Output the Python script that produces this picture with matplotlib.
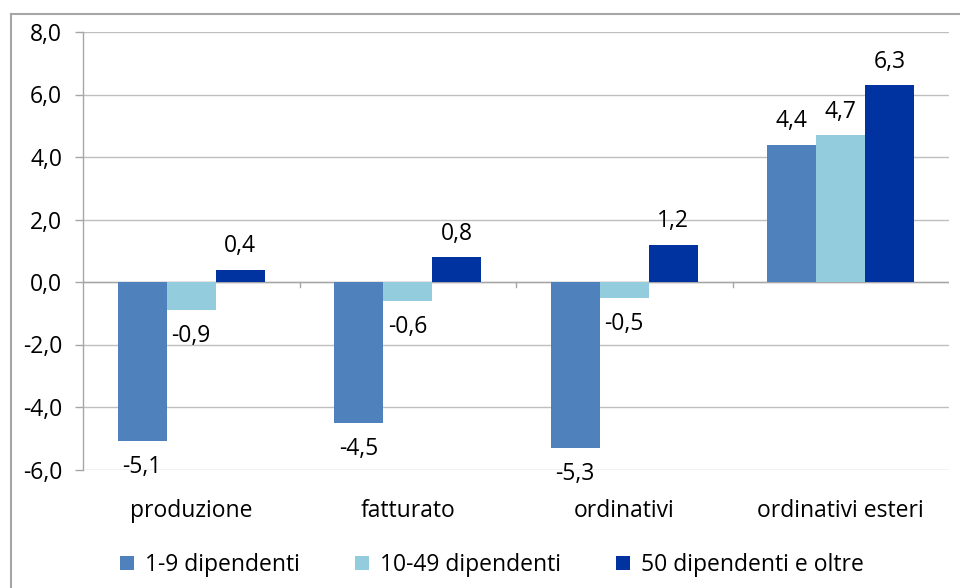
import matplotlib
matplotlib.use("Agg")
import matplotlib.pyplot as plt
from matplotlib.lines import Line2D
from matplotlib.patches import Patch
import numpy as np

categories = ["produzione", "fatturato", "ordinativi", "ordinativi esteri"]
series_names = ["1-9 dipendenti", "10-49 dipendenti", "50 dipendenti e oltre"]
small = [-5.1, -4.5, -5.3, 4.4]
medium = [-0.9, -0.6, -0.5, 4.7]
large = [0.4, 0.8, 1.2, 6.3]
yticks = [-6.0, -4.0, -2.0, 0.0, 2.0, 4.0, 6.0, 8.0]

colors = ["#4F81BD", "#93CDDD", "#0033A0"]
series = [small, medium, large]

plt.rcParams["font.family"] = ["Open Sans", "DejaVu Sans"]
FS = 16.5

W, H = 960, 588
fig = plt.figure(figsize=(W / 100, H / 100), dpi=100)

# outer chart frame (left and top edges)
fig.add_artist(Line2D([11 / W, 11 / W], [0, 1 - 14 / H], transform=fig.transFigure,
                      color="#A6A6A6", lw=1.5))
fig.add_artist(Line2D([11 / W, 1], [1 - 14 / H, 1 - 14 / H], transform=fig.transFigure,
                      color="#A6A6A6", lw=1.5))

left, right, top, bottom = 83, 949, 32, 469.5
ax = fig.add_axes([left / W, 1 - bottom / H, (right - left) / W, (bottom - top) / H])

x = np.arange(len(categories))
bw = 0.68 / 3
for i, (vals, c, name) in enumerate(zip(series, colors, series_names)):
    pos = x + (i - 1) * bw
    ax.bar(pos, vals, width=bw, color=c, label=name, zorder=3)
    for xp, v in zip(pos, vals):
        txt = f"{v:.1f}".replace(".", ",")
        ax.annotate(txt, (xp, v), xytext=(0, 8 if v >= 0 else -10),
                    textcoords="offset points", ha="center",
                    va="bottom" if v >= 0 else "top", fontsize=FS, color="black")

ax.set_xlim(-0.5, len(categories) - 0.5)
ax.set_ylim(-6, 8)
ax.set_yticks(yticks)
ax.set_yticklabels([f"{t:.1f}".replace(".", ",") for t in yticks], fontsize=FS)
ax.yaxis.grid(True, color="#BFBFBF", lw=1, zorder=0)
ax.tick_params(axis="y", length=6, color="#A6A6A6", width=1, pad=9)

ax.set_xticks([])
for s in ["top", "right", "bottom"]:
    ax.spines[s].set_visible(False)
ax.spines["left"].set_color("#A6A6A6")
ax.spines["left"].set_linewidth(1)

# category axis at zero with tick marks between categories
ax.axhline(0, color="#A6A6A6", lw=1, zorder=2)
for b in np.arange(0.5, len(categories) - 0.5, 1.0):
    ax.plot([b, b], [0, -0.15], color="#A6A6A6", lw=1, zorder=2, clip_on=False)

for xi, cat in zip(x, categories):
    fig.text((left + (xi + 0.5) * (right - left) / len(categories)) / W, 1 - 511 / H, cat,
             ha="center", va="center", fontsize=FS)

handles = [Patch(facecolor=c, edgecolor="none") for c in colors]
fig.legend(handles, series_names, loc="center", bbox_to_anchor=(492 / W, 1 - 565 / H),
           ncol=3, frameon=False, fontsize=FS, handlelength=0.6, handleheight=0.6,
           handletextpad=0.5, columnspacing=2.4)

fig.savefig("out.png", dpi=100)
